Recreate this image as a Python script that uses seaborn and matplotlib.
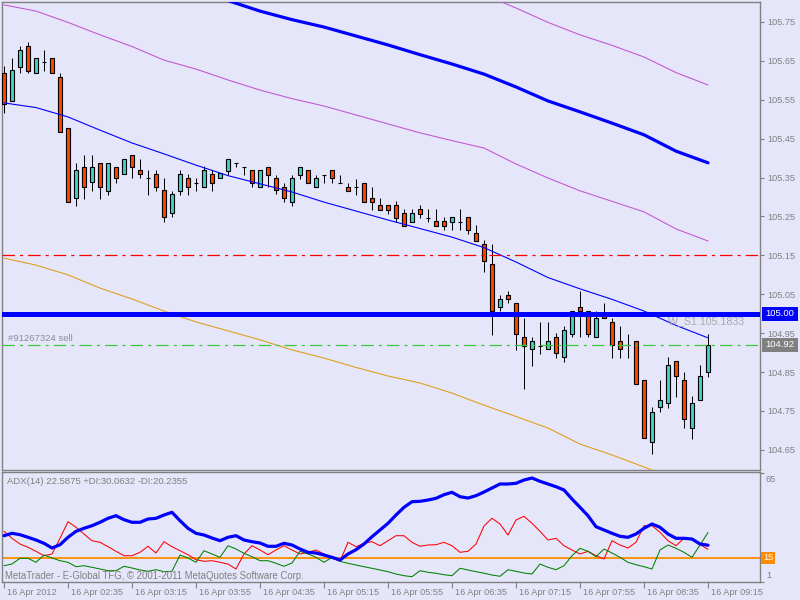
import numpy as np
import matplotlib
matplotlib.use('Agg')
import matplotlib.pyplot as plt
import matplotlib.transforms as mtransforms
from matplotlib.patches import Rectangle
import seaborn as sns

# ---------------- data ----------------
opens = [105.619, 105.547, 105.634, 105.688, 105.619, 105.647, 105.657, 105.609, 105.477, 105.298,
         105.377, 105.339, 105.388, 105.316, 105.377, 105.359, 105.408, 105.370, 105.349, 105.359,
         105.318, 105.259, 105.316, 105.349, 105.336, 105.326, 105.359, 105.349, 105.367, 105.388,
         105.377, 105.370, 105.326, 105.377, 105.349, 105.326, 105.287, 105.357, 105.370, 105.326,
         105.357, 105.370, 105.336, 105.326, 105.326, 105.336, 105.298, 105.280, 105.280, 105.280,
         105.259, 105.236, 105.269, 105.246, 105.238, 105.238, 105.236, 105.236, 105.249, 105.208,
         105.179, 105.128, 105.017, 105.048, 105.028, 104.940, 104.909, 104.917, 104.909, 104.940,
         104.889, 104.948, 105.017, 105.007, 104.940, 104.999, 104.979, 104.930, 104.920, 104.930,
         104.830, 104.670, 104.760, 104.771, 104.878, 104.830, 104.706, 104.778, 104.850]
highs = [105.637, 105.657, 105.688, 105.699, 105.657, 105.678, 105.657, 105.619, 105.477, 105.388,
         105.408, 105.408, 105.388, 105.388, 105.377, 105.398, 105.408, 105.398, 105.370, 105.370,
         105.349, 105.316, 105.370, 105.359, 105.349, 105.380, 105.370, 105.362, 105.398, 105.388,
         105.377, 105.370, 105.370, 105.377, 105.357, 105.336, 105.357, 105.377, 105.370, 105.357,
         105.357, 105.370, 105.357, 105.336, 105.346, 105.336, 105.326, 105.298, 105.280, 105.290,
         105.269, 105.269, 105.280, 105.269, 105.269, 105.249, 105.249, 105.269, 105.249, 105.228,
         105.190, 105.179, 105.048, 105.058, 105.028, 104.989, 104.940, 104.979, 104.979, 104.950,
         104.968, 105.007, 105.058, 105.007, 105.007, 105.028, 104.989, 104.968, 104.948, 104.930,
         104.830, 104.760, 104.830, 104.889, 104.878, 104.850, 104.789, 104.868, 104.948]
lows = [105.516, 105.547, 105.619, 105.619, 105.619, 105.624, 105.619, 105.467, 105.287, 105.277,
        105.295, 105.316, 105.295, 105.305, 105.336, 105.359, 105.349, 105.349, 105.305, 105.316,
        105.236, 105.249, 105.305, 105.305, 105.316, 105.326, 105.316, 105.349, 105.357, 105.377,
        105.357, 105.326, 105.326, 105.326, 105.308, 105.287, 105.277, 105.346, 105.336, 105.326,
        105.336, 105.336, 105.336, 105.316, 105.305, 105.287, 105.267, 105.267, 105.256, 105.236,
        105.226, 105.236, 105.246, 105.236, 105.226, 105.215, 105.215, 105.215, 105.205, 105.187,
        105.107, 104.945, 105.007, 105.028, 104.907, 104.807, 104.866, 104.897, 104.909, 104.886,
        104.876, 104.940, 104.940, 104.940, 104.940, 104.989, 104.886, 104.886, 104.886, 104.819,
        104.681, 104.639, 104.747, 104.758, 104.786, 104.706, 104.678, 104.778, 104.837]
closes = [105.539, 105.627, 105.678, 105.624, 105.657, 105.647, 105.619, 105.467, 105.287, 105.370,
          105.326, 105.377, 105.326, 105.388, 105.349, 105.398, 105.377, 105.359, 105.349, 105.326,
          105.249, 105.308, 105.359, 105.326, 105.336, 105.370, 105.336, 105.362, 105.398, 105.388,
          105.377, 105.336, 105.370, 105.357, 105.318, 105.298, 105.349, 105.377, 105.336, 105.349,
          105.357, 105.349, 105.336, 105.316, 105.326, 105.287, 105.287, 105.267, 105.267, 105.246,
          105.226, 105.259, 105.256, 105.246, 105.226, 105.226, 105.249, 105.236, 105.215, 105.187,
          105.136, 105.007, 105.038, 105.038, 104.948, 104.917, 104.930, 104.917, 104.930, 104.899,
          104.958, 105.007, 105.007, 104.948, 104.989, 104.989, 104.920, 104.909, 104.920, 104.819,
          104.681, 104.747, 104.778, 104.868, 104.840, 104.729, 104.771, 104.840, 104.920]

time_ticks = [0, 8, 16, 24, 32, 40, 48, 56, 64, 72, 80, 88]
time_labels = ['16 Apr 2012', '16 Apr 02:35', '16 Apr 03:15', '16 Apr 03:55', '16 Apr 04:35',
               '16 Apr 05:15', '16 Apr 05:55', '16 Apr 06:35', '16 Apr 07:15', '16 Apr 07:55',
               '16 Apr 08:35', '16 Apr 09:15']

price_ticks = [105.75, 105.65, 105.55, 105.45, 105.35, 105.25, 105.15, 105.05, 104.95, 104.85, 104.75, 104.65]

# overlay lines (bar index, price)
ma_slow_bars = [28, 32, 36, 40, 44, 48, 52, 56, 60, 64, 68, 72, 76, 80, 84, 88]
ma_slow = [105.805, 105.778, 105.756, 105.737, 105.714, 105.691, 105.666, 105.642,
           105.616, 105.583, 105.547, 105.519, 105.490, 105.460, 105.418, 105.388]
env_up_bars = [62, 64, 68, 72, 76, 80, 84, 88]
env_up = [105.803, 105.786, 105.749, 105.717, 105.690, 105.660, 105.620, 105.588]
env_lo_bars = [0, 4, 8, 12, 16, 20, 24, 28, 32, 36, 40, 44, 48, 52, 56, 60, 64, 68, 72, 76, 80, 84, 88]
env_lo = [105.794, 105.778, 105.749, 105.717, 105.687, 105.652, 105.629, 105.601, 105.575, 105.553,
          105.534, 105.511, 105.488, 105.465, 105.445, 105.426, 105.385, 105.349, 105.316, 105.289,
          105.262, 105.218, 105.187]
ma_fast_bars = [0, 4, 8, 12, 16, 20, 24, 28, 32, 36, 40, 44, 48, 52, 56, 60, 64, 68, 72, 76, 80, 84, 88]
ma_fast = [105.542, 105.530, 105.506, 105.472, 105.439, 105.411, 105.382, 105.355, 105.334, 105.313,
           105.287, 105.264, 105.241, 105.219, 105.197, 105.170, 105.133, 105.093, 105.064, 105.037,
           105.007, 104.970, 104.938]
ma_long_bars = [0, 4, 8, 12, 16, 20, 24, 28, 32, 36, 40, 44, 48, 52, 56, 60, 64, 68, 72, 76, 80, 81]
ma_long = [105.143, 105.125, 105.100, 105.066, 105.038, 105.007, 104.979, 104.956, 104.933, 104.907,
           104.886, 104.862, 104.840, 104.822, 104.796, 104.765, 104.736, 104.706, 104.665, 104.637,
           104.606, 104.598]

level_red = 105.15
level_blue = 105.00
level_green = 104.92

# ADX(14)
adx = [28.19, 29.60, 28.77, 27.25, 25.66, 23.72, 20.96, 22.90, 27.25, 30.77,
       32.53, 34.06, 36.06, 38.40, 39.93, 37.58, 36.06, 36.06, 37.99, 38.40,
       40.34, 41.93, 37.00, 32.53, 29.60, 28.60, 26.84, 25.25, 27.25, 28.19,
       25.66, 24.66, 23.90, 21.96, 21.96, 23.72, 22.73, 20.38, 18.44, 18.03,
       16.85, 15.50, 13.92, 17.44, 19.97, 23.31, 27.60, 31.53, 35.47, 40.34,
       44.86, 48.15, 48.39, 49.15, 50.15, 52.26, 53.67, 51.09, 50.32, 51.68,
       53.85, 56.20, 58.55, 58.55, 58.96, 60.89, 62.07, 60.13, 58.55, 56.96,
       55.02, 49.74, 44.86, 39.93, 33.47, 31.53, 29.60, 27.84, 27.25, 29.19,
       32.53, 35.06, 33.12, 29.19, 26.66, 26.66, 26.25, 23.31, 22.59]
minus_di = [30.77, 26.66, 23.31, 21.38, 19.03, 16.44, 17.44, 26.66, 36.41, 33.12,
            29.19, 25.25, 24.31, 21.73, 19.03, 16.44, 16.44, 18.44, 21.96, 18.03,
            24.66, 21.73, 19.38, 17.03, 14.09, 13.16, 13.51, 12.57, 11.57, 8.63,
            17.44, 22.31, 19.79, 17.03, 19.79, 22.31, 19.79, 17.44, 18.44, 19.79,
            17.44, 15.09, 13.16, 24.31, 21.73, 23.72, 24.66, 22.31, 25.25, 28.19,
            28.19, 24.31, 21.96, 22.73, 22.90, 24.31, 22.31, 18.44, 19.03, 23.31,
            33.88, 38.40, 35.06, 28.60, 37.41, 39.58, 35.47, 30.77, 25.66, 26.66,
            22.31, 19.79, 17.44, 19.03, 16.44, 14.51, 25.25, 22.73, 20.96, 24.31,
            34.06, 34.06, 30.18, 25.25, 22.31, 26.66, 26.25, 22.90, 20.24]
plus_di = [10.57, 11.57, 14.92, 14.92, 12.57, 16.85, 15.09, 13.51, 12.57, 9.98,
           10.57, 9.63, 8.63, 7.64, 7.64, 10.22, 9.22, 8.05, 7.28, 8.22,
           7.05, 7.28, 16.85, 15.09, 12.57, 19.38, 17.44, 15.50, 22.31, 20.38,
           17.85, 15.86, 13.51, 13.51, 11.98, 10.22, 12.16, 19.03, 17.44, 15.50,
           12.57, 15.50, 13.16, 11.98, 10.98, 9.98, 9.04, 8.05, 7.05, 5.70,
           4.70, 4.11, 7.64, 6.70, 6.11, 5.29, 4.70, 9.04, 8.05, 7.05,
           6.17, 5.11, 4.35, 8.22, 7.28, 6.28, 5.70, 11.57, 9.63, 8.22,
           10.57, 16.44, 20.79, 19.03, 15.86, 20.38, 18.03, 15.50, 12.57, 11.16,
           9.98, 8.63, 19.79, 22.73, 20.79, 18.44, 15.50, 22.73, 30.06]
adx_level = 15

# ---------------- style ----------------
BG = '#E6E6FA'
GRAY = '#808080'
sns.set_style('white', {'axes.facecolor': BG, 'figure.facecolor': BG,
                        'axes.edgecolor': GRAY})
plt.rcParams['font.family'] = ['Liberation Sans', 'DejaVu Sans']

W, H = 800, 600
fig = plt.figure(figsize=(8, 6), dpi=100)
fig.patch.set_facecolor(BG)

def fx(px):
    return px / W

def fy(py):
    return 1 - py / H

ax1 = fig.add_axes([fx(2), fy(470), fx(760) - fx(2), fy(2) - fy(470)])
ax2 = fig.add_axes([fx(2), fy(582), fx(760) - fx(2), fy(472) - fy(582)])

for ax in (ax1, ax2):
    ax.set_facecolor(BG)
    for s in ax.spines.values():
        s.set_color(GRAY)
        s.set_linewidth(1.0)
    ax.set_xlim(-0.25, 94.5)

# ---------------- candles ----------------
o = np.array(opens); h = np.array(highs); l = np.array(lows); c = np.array(closes)
x = np.arange(len(o))
body_bottom = np.minimum(o, c)
body_h = np.maximum(np.abs(c - o), 0.0004)
colors = np.where(c > o, '#40D0C8', np.where(c < o, '#FF4500', 'black'))
ax1.vlines(x, l, h, color='black', lw=0.72, zorder=2)
ax1.bar(x, body_h, bottom=body_bottom, width=0.62, color=colors,
        edgecolor='black', linewidth=0.8, zorder=3)

# ---------------- overlay lines ----------------
sns.lineplot(x=env_up_bars, y=env_up, ax=ax1, color='#C35BD2', lw=0.8, zorder=4, estimator=None)
sns.lineplot(x=env_lo_bars, y=env_lo, ax=ax1, color='#C35BD2', lw=0.8, zorder=4, estimator=None)
sns.lineplot(x=ma_slow_bars, y=ma_slow, ax=ax1, color='#0000FF', lw=2.3, zorder=4, estimator=None)
sns.lineplot(x=ma_fast_bars, y=ma_fast, ax=ax1, color='#0000FF', lw=0.8, zorder=4, estimator=None)
sns.lineplot(x=ma_long_bars, y=ma_long, ax=ax1, color='#E0A020', lw=0.8, zorder=4, estimator=None)

dashdot = (0, (10, 4, 2.5, 4))
ax1.axhline(level_red, color='#FF0000', lw=0.9, ls=dashdot, zorder=5)
ax1.axhline(level_green, color='#3CC83C', lw=0.9, ls=dashdot, zorder=5)
ax1.axhline(level_blue, color='#0000FF', lw=3.6, zorder=5)

ax1.set_ylim(104.5983, 105.8014)
ax1.set_xticks([])
ax1.yaxis.tick_right()
ax1.set_yticks(price_ticks)
ax1.set_yticklabels([f'{v:.2f}' for v in price_ticks])
ax1.tick_params(axis='y', direction='out', length=3, width=0.8, color=GRAY,
                labelcolor=GRAY, labelsize=6.6, pad=2, right=True, left=False)

trans1 = mtransforms.blended_transform_factory(ax1.transAxes, ax1.transData)
px_d = (105.8014 - 104.5983) / 468.0  # price per pixel
bx0 = (762 - 2) / 758.0
bx1 = (798 - 2) / 758.0
for val, fc in ((level_blue, '#0000FF'), (level_green, GRAY)):
    ax1.add_patch(Rectangle((bx0, val - 7 * px_d), bx1 - bx0, 14 * px_d, transform=trans1,
                            facecolor=fc, edgecolor='none', clip_on=False, zorder=6))
    ax1.text((bx0 + bx1) / 2, val, f'{val:.2f}', transform=trans1, color='white',
             fontsize=6.8, ha='center', va='center', clip_on=False, zorder=7)

ax1.annotate('#91267324 sell', xy=(0.008, level_green), xycoords=trans1,
             xytext=(0, 2), textcoords='offset pixels', ha='left', va='bottom',
             fontsize=6.8, color='#8C8C9C', zorder=6)
ax1.annotate('W_S1 105.1833', xy=((668 - 2) / 758.0, level_blue), xycoords=trans1,
             xytext=(0, -2), textcoords='offset pixels', ha='left', va='top',
             fontsize=7.7, color='#A8A8A8', zorder=6)

# ---------------- ADX panel ----------------
xb = np.arange(len(adx))
ax2.axhline(adx_level, color='#FF8C00', lw=1.3, zorder=2)
sns.lineplot(x=xb, y=minus_di, ax=ax2, color='#FF0000', lw=0.75, zorder=3, estimator=None)
sns.lineplot(x=xb, y=plus_di, ax=ax2, color='#008000', lw=0.75, zorder=3, estimator=None)
sns.lineplot(x=xb, y=adx, ax=ax2, color='#0000FF', lw=2.3, zorder=4, estimator=None)
ax2.set_ylim(1, 65.6)
ax2.yaxis.tick_right()
ax2.set_yticks([1, 65])
ax2.set_yticklabels(['', ''])
ax2.tick_params(axis='y', direction='out', length=3, width=0.8, color=GRAY, right=True, left=False)
ax2.set_xticks(time_ticks)
ax2.set_xticklabels(time_labels)
ax2.tick_params(axis='x', direction='out', length=4, width=0.8, color=GRAY,
                labelcolor=GRAY, labelsize=6.6, pad=0.5, bottom=True)
offset = mtransforms.ScaledTranslation(3 / 100, 0, fig.dpi_scale_trans)
for lbl in ax2.get_xticklabels():
    lbl.set_ha('left')
    lbl.set_transform(lbl.get_transform() + offset)
ax2.set_xlabel('')
ax2.set_ylabel('')
ax1.set_xlabel('')
ax1.set_ylabel('')

fig.text(fx(766), fy(480), '65', color=GRAY, fontsize=6.6, ha='left', va='center')
fig.text(fx(766), fy(576), '1', color=GRAY, fontsize=6.6, ha='left', va='center')
fig.patches.append(Rectangle((fx(761), fy(564)), fx(775) - fx(761), fy(552) - fy(564),
                             transform=fig.transFigure, facecolor='#FF8C00', edgecolor='none'))
fig.text(fx(768), fy(558), '15', color='white', fontsize=6.6, ha='center', va='center')

fig.text(fx(7), fy(482), 'ADX(14) 22.5875 +DI:30.0632 -DI:20.2355', color=GRAY,
         fontsize=6.8, ha='left', va='center')
fig.text(fx(5), fy(576), 'MetaTrader - E-Global TFG, \u00a9 2001-2011 MetaQuotes Software Corp.',
         color=GRAY, fontsize=6.9, ha='left', va='center', zorder=10)

fig.savefig('out.png', dpi=100, facecolor=BG)
